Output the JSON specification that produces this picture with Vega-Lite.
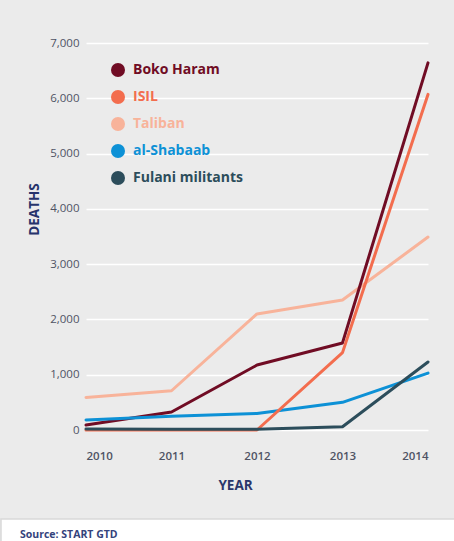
{
  "$schema": "https://vega.github.io/schema/vega-lite/v6.json",
  "background": "#ebebeb",
  "padding": {"left": 0, "top": 37, "right": 0, "bottom": 0},
  "spacing": 26,
  "config": {"font": "Open Sans", "view": {"stroke": null}},
  "vconcat": [
    {
      "spacing": 0,
      "hconcat": [
        {
          "width": 1,
          "height": 1,
          "data": {"values": []},
          "mark": "point"
        },
        {
          "width": 342,
          "height": 387,
          "data": {
            "values": [
              {"group": "Taliban", "year": 2010, "deaths": 590},
              {"group": "Taliban", "year": 2011, "deaths": 710},
              {"group": "Taliban", "year": 2012, "deaths": 2100},
              {"group": "Taliban", "year": 2013, "deaths": 2350},
              {"group": "Taliban", "year": 2014, "deaths": 3490},
              {"group": "Boko Haram", "year": 2010, "deaths": 90},
              {"group": "Boko Haram", "year": 2011, "deaths": 325},
              {"group": "Boko Haram", "year": 2012, "deaths": 1175},
              {"group": "Boko Haram", "year": 2013, "deaths": 1575},
              {"group": "Boko Haram", "year": 2014, "deaths": 6640},
              {"group": "al-Shabaab", "year": 2010, "deaths": 180},
              {"group": "al-Shabaab", "year": 2011, "deaths": 250},
              {"group": "al-Shabaab", "year": 2012, "deaths": 300},
              {"group": "al-Shabaab", "year": 2013, "deaths": 500},
              {"group": "al-Shabaab", "year": 2014, "deaths": 1030},
              {"group": "ISIL", "year": 2010, "deaths": 0},
              {"group": "ISIL", "year": 2011, "deaths": 0},
              {"group": "ISIL", "year": 2012, "deaths": 0},
              {"group": "ISIL", "year": 2013, "deaths": 1400},
              {"group": "ISIL", "year": 2014, "deaths": 6070},
              {"group": "Fulani militants", "year": 2010, "deaths": 20},
              {"group": "Fulani militants", "year": 2011, "deaths": 15},
              {"group": "Fulani militants", "year": 2012, "deaths": 15},
              {"group": "Fulani militants", "year": 2013, "deaths": 60},
              {"group": "Fulani militants", "year": 2014, "deaths": 1230}
            ]
          },
          "mark": {"type": "line", "strokeWidth": 3, "strokeCap": "round", "strokeJoin": "round"},
          "encoding": {
            "x": {
              "field": "year",
              "type": "quantitative",
              "scale": {"domain": [2010, 2014], "nice": false, "zero": false},
              "axis": {
                "values": [2010, 2011, 2012, 2013, 2014],
                "format": "d",
                "grid": false,
                "ticks": false,
                "domain": false,
                "labelPadding": 20,
                "labelDx": 6,
                "labelFontSize": 11.5,
                "labelColor": "#4f5364",
                "labelFontWeight": 600,
                "title": "YEAR",
                "titleFontSize": 13.5,
                "titleFontWeight": "bold",
                "titleColor": "#2b376b",
                "titleX": 149,
                "titleY": 48,
                "titleAlign": "center",
                "titleBaseline": "top"
              }
            },
            "y": {
              "field": "deaths",
              "type": "quantitative",
              "scale": {"domain": [0, 7000], "nice": false},
              "axis": {
                "values": [0, 1000, 2000, 3000, 4000, 5000, 6000, 7000],
                "format": ",.0f",
                "grid": true,
                "gridColor": "white",
                "gridWidth": 1.5,
                "ticks": false,
                "domain": false,
                "labelPadding": 7,
                "labelFontSize": 11.5,
                "labelColor": "#4f5364",
                "title": ["", "DEATHS"],
                "titleFontSize": 13.5,
                "titleFontWeight": "bold",
                "titleColor": "#26336b",
                "titleLineHeight": 25,
                "titleAngle": -90,
                "titleX": -70,
                "titleY": 166,
                "titleAlign": "center",
                "titleBaseline": "bottom"
              }
            },
            "color": {
              "field": "group",
              "type": "nominal",
              "scale": {
                "domain": ["Boko Haram", "ISIL", "Taliban", "al-Shabaab", "Fulani militants"],
                "range": ["#700c24", "#f36d4e", "#f8b39a", "#0d91d6", "#2c4d5b"]
              },
              "legend": {
                "title": null,
                "orient": "none",
                "legendX": 110,
                "legendY": 20,
                "padding": 0,
                "symbolType": "circle",
                "symbolSize": 196,
                "symbolStrokeWidth": 0,
                "symbolOpacity": 1,
                "labelFontSize": 14,
                "labelFontWeight": "bold",
                "labelOffset": 8,
                "rowPadding": 13,
                "encode": {
                  "symbols": {"update": {"fill": {"scale": "color", "field": "value"}, "opacity": {"value": 1}}},
                  "labels": {"update": {"fill": {"scale": "color", "field": "value"}}}
                }
              }
            }
          }
        }
      ]
    },
    {
      "width": 454,
      "height": 25,
      "view": {"fill": "white", "stroke": "#d9d9d9", "strokeWidth": 1.5},
      "data": {"values": []},
      "mark": "text",
      "title": {
        "text": "Source: START GTD",
        "orient": "top",
        "anchor": "start",
        "frame": "group",
        "offset": -26,
        "baseline": "middle",
        "dx": 19,
        "fontSize": 10.5,
        "fontWeight": "bold",
        "color": "#34437c"
      }
    }
  ]
}
